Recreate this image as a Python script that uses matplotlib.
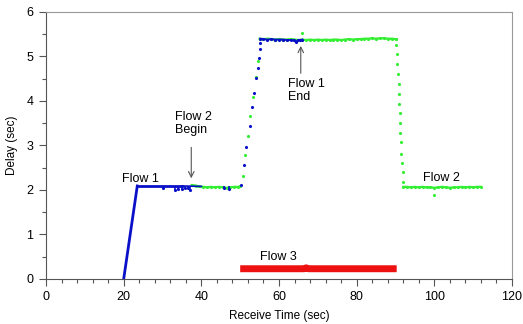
import matplotlib.pyplot as plt
from matplotlib.ticker import MultipleLocator

plt.rcParams['font.family'] = ['Liberation Sans', 'DejaVu Sans']

# Flow 1 (blue)
flow1_ramp_t = [20.0, 23.5]
flow1_ramp_d = [0.0, 2.09]
flow1_flat_t = [23.5, 30, 35, 40, 45, 50]
flow1_flat_d = [2.09, 2.09, 2.09, 2.08, 2.08, 2.09]
flow1_dip_t = [30.0, 33.2, 34.0, 34.9, 35.8, 36.6, 37.1, 45.8, 47.0]
flow1_dip_d = [2.05, 1.99, 2.03, 2.02, 2.05, 2.04, 1.99, 2.05, 2.03]
flow1_rise_t = [50.1, 50.9, 51.5, 52.4, 53.1, 53.6, 54.0, 54.5, 54.9, 55.0, 55.1]
flow1_rise_d = [2.11, 2.55, 2.97, 3.44, 3.86, 4.19, 4.51, 4.75, 4.96, 5.16, 5.30]
flow1_top_t = [55.2, 56, 57, 58, 59, 60, 61, 62, 63, 63.8, 64.3, 64.8, 65.5, 66]
flow1_top_d = [5.40, 5.39, 5.38, 5.39, 5.38, 5.38, 5.38, 5.37, 5.37, 5.36, 5.33, 5.36, 5.37, 5.38]

# Flow 2 (green)
flow2_low_t = [37.5, 38.5, 39.5, 40.5, 41.5, 42.5, 43.5, 44.5, 45.5, 46.5, 47.5, 48.5, 49.5, 50]
flow2_low_d = [2.11, 2.10, 2.08, 2.07, 2.06, 2.07, 2.06, 2.07, 2.06, 2.05, 2.06, 2.07, 2.07, 2.08]
flow2_rise_t = [50.7, 51.3, 51.9, 52.6, 53.4, 54.1, 54.6]
flow2_rise_d = [2.32, 2.78, 3.21, 3.66, 4.09, 4.53, 4.90]
flow2_top_t = list(range(55, 91))
flow2_top_d = [5.40, 5.39, 5.40, 5.39, 5.38, 5.39, 5.38, 5.38, 5.39, 5.38, 5.37, 5.38,
               5.37, 5.38, 5.37, 5.38, 5.37, 5.38, 5.37, 5.38, 5.38, 5.37, 5.38, 5.39,
               5.38, 5.39, 5.39, 5.40, 5.40, 5.41, 5.40, 5.41, 5.41, 5.40, 5.40, 5.39]
flow2_drop_t = [90.0, 90.1, 90.3, 90.5, 90.7, 90.8, 90.85, 91.0, 91.1, 91.2, 91.25, 91.3,
                91.5, 91.7, 91.9, 92.0]
flow2_drop_d = [5.39, 5.26, 5.06, 4.84, 4.61, 4.38, 4.15, 3.94, 3.73, 3.51, 3.29, 3.08,
                2.81, 2.60, 2.40, 2.17]
flow2_end_t = list(range(92, 113))
flow2_end_d = [2.07, 2.07, 2.06, 2.07, 2.06, 2.07, 2.06, 2.06, 2.05, 2.06, 2.07, 2.06,
               2.05, 2.06, 2.06, 2.07, 2.06, 2.07, 2.06, 2.07, 2.07]
flow2_out_t = [100, 66]
flow2_out_d = [1.88, 5.52]

# Flow 3 (red)
flow3_t = [50, 55, 60, 65, 66.5, 67, 67.5, 70, 75, 80, 85, 90.3]
flow3_d = [0.23, 0.23, 0.23, 0.23, 0.23, 0.25, 0.23, 0.23, 0.23, 0.23, 0.23, 0.23]

blue = '#0a10c8'
green = '#33ee33'
red = '#ee1111'

fig = plt.figure(figsize=(5.23, 3.24), dpi=100)
ax = fig.add_axes([0.088, 0.139, 0.891, 0.824])

ax.plot(flow3_t, flow3_d, color=red, lw=5, solid_capstyle='butt')

ax.plot(flow2_low_t, flow2_low_d, color=green, lw=1.6, marker='.', ms=2.5)
ax.plot(flow2_rise_t, flow2_rise_d, color=green, ls='none', marker='.', ms=2.5)
ax.plot(flow2_top_t, flow2_top_d, color=green, lw=1.6, marker='.', ms=2.5)
ax.plot(flow2_drop_t, flow2_drop_d, color=green, ls='none', marker='.', ms=2.5)
ax.plot(flow2_end_t, flow2_end_d, color=green, lw=1.6, marker='.', ms=2.5)
ax.plot(flow2_out_t, flow2_out_d, color=green, ls='none', marker='.', ms=2.5)

ax.plot(flow1_ramp_t, flow1_ramp_d, color=blue, lw=2)
ax.plot(flow1_flat_t[:3], flow1_flat_d[:3], color=blue, lw=2)
ax.plot(flow1_flat_t[2:4], flow1_flat_d[2:4], color=blue, lw=1.2)
ax.vlines(flow1_dip_t, flow1_dip_d, 2.09, color=blue, lw=1.2)
ax.plot(flow1_dip_t, flow1_dip_d, color=blue, ls='none', marker='.', ms=2.5)
ax.plot(flow1_rise_t, flow1_rise_d, color=blue, ls='none', marker='.', ms=2.5)
ax.plot(flow1_top_t, flow1_top_d, color=blue, lw=1.4, marker='.', ms=2.5)

fs = 9
ax.text(19.6, 2.17, 'Flow 1', fontsize=fs)
ax.text(33.2, 3.27, 'Flow 2\nBegin', fontsize=fs, linespacing=1.15)
ax.annotate('', xy=(37.4, 2.2), xytext=(37.4, 3.02),
            arrowprops=dict(arrowstyle='->', color='#555555', lw=0.8))
ax.text(62.2, 4.02, 'Flow 1\nEnd', fontsize=fs, linespacing=1.15)
ax.annotate('', xy=(65.6, 5.3), xytext=(65.6, 4.56),
            arrowprops=dict(arrowstyle='->', color='#555555', lw=0.8))
ax.text(97.2, 2.2, 'Flow 2', fontsize=fs)
ax.text(55.2, 0.43, 'Flow 3', fontsize=fs)

ax.set_xlim(0, 120)
ax.set_ylim(0, 6)
ax.xaxis.set_major_locator(MultipleLocator(20))
ax.xaxis.set_minor_locator(MultipleLocator(4))
ax.yaxis.set_major_locator(MultipleLocator(1))
ax.yaxis.set_minor_locator(MultipleLocator(0.5))
ax.tick_params(which='major', direction='out', length=5, width=0.8, color='#555555',
               labelsize=fs, pad=4)
ax.tick_params(which='minor', direction='out', length=3, width=0.8, color='#555555')

for s in ['left', 'bottom']:
    ax.spines[s].set_color('#555555')
for s in ['top', 'right']:
    ax.spines[s].set_color('#999999')

ax.set_xlabel('Receive Time (sec)', fontsize=8.5, labelpad=5)
ax.set_ylabel('Delay (sec)', fontsize=8.5, labelpad=6)

fig.savefig('out.png', dpi=100)
